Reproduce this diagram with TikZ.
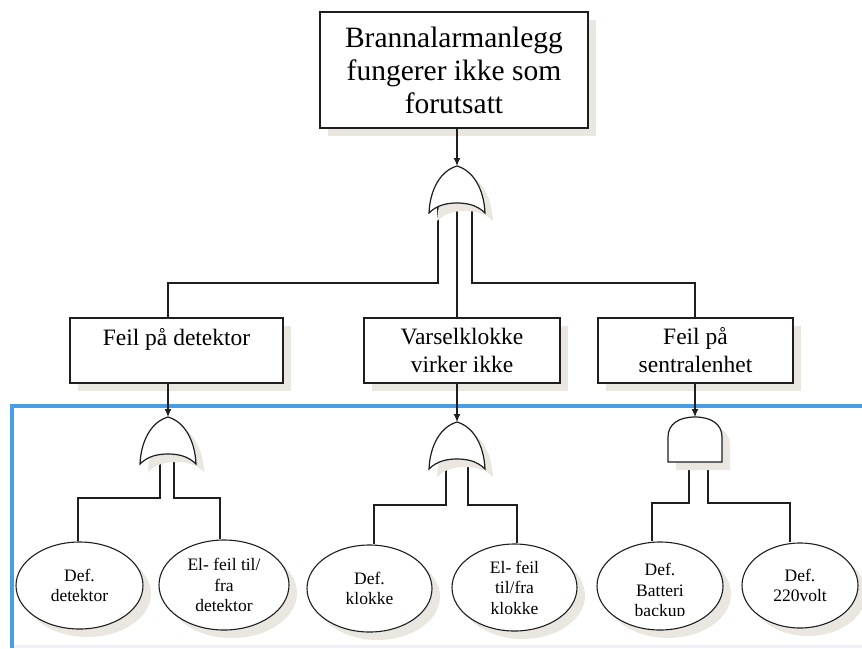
\documentclass[tikz,border=0pt]{standalone}
\usepackage{fontspec}
\setmainfont{Liberation Serif}
\usetikzlibrary{shapes.geometric,arrows.meta}

\definecolor{shade}{RGB}{233,231,224}
\definecolor{frameblue}{RGB}{72,156,232}
\definecolor{bottomtint}{RGB}{236,241,249}
\definecolor{ink}{RGB}{30,30,30}

\tikzset{
  castshadow/.style={preaction={fill=shade, draw=none, transform canvas={shift={(8pt,-8pt)}}}},
  box/.style={rectangle, draw=ink, line width=1.3pt, fill=white, inner sep=0pt,
    align=center, castshadow},
  toptext/.style={font=\fontsize{29.5}{33}\selectfont},
  midtext/.style={font=\fontsize{23.5}{28}\selectfont},
  basic/.style={ellipse, draw=ink, line width=1.1pt, fill=white, inner sep=0pt,
    align=center, castshadow, font=\fontsize{17.5}{20.5}\selectfont},
  basictext/.style={inner sep=0pt, align=center, font=\fontsize{17.5}{20.5}\selectfont},
  wire/.style={draw=ink, line width=1.2pt},
  arr/.style={wire, -{Latex[length=8pt,width=7pt]}},
  gatebody/.style={draw=ink, line width=1.2pt, fill=white, castshadow},
  orgate/.pic={
    \path[gatebody] (0,0) .. controls (17,5) and (27,24) .. (28,47)
      .. controls (20,39) and (10,37) .. (0,37)
      .. controls (-10,37) and (-20,39) .. (-28,47)
      .. controls (-27,24) and (-17,5) .. (0,0) -- cycle;
    \coordinate (-top) at (0,0);
  },
  andgate/.pic={
    \path[gatebody] (0,0) .. controls (16,0) and (27,7) .. (27,20)
      -- (27,45) -- (-27,45) -- (-27,20)
      .. controls (-27,7) and (-16,0) .. (0,0) -- cycle;
    \coordinate (-top) at (0,0);
  },
}

\begin{document}
\begin{tikzpicture}[x=1pt, y=-1pt]
  \useasboundingbox (0,0) rectangle (862,648);

  % frame of the lower part
  \fill[bottomtint] (14,645) rectangle (862,648);
  \draw[frameblue, line width=4pt] (862,406) -- (12,406) -- (12,648);

  % events
  \node[box, toptext, minimum width=268pt, minimum height=116pt] (top) at (454,70)
    {Brannalarmanlegg\\fungerer ikke som\\forutsatt};
  \node[box, midtext, minimum width=213pt, minimum height=65pt] (b1) at (176.5,350.5)
    {Feil på detektor\\\mbox{}};
  \node[box, midtext, minimum width=196pt, minimum height=65pt] (b2) at (462,350.5)
    {Varselklokke\\virker ikke};
  \node[box, midtext, minimum width=195pt, minimum height=65pt] (b3) at (695.5,350.5)
    {Feil på\\sentralenhet};

  % gate inputs
  \coordinate (g0l) at (438,203);
  \coordinate (g0m) at (457,203);
  \coordinate (g0r) at (472,203);
  \coordinate (g1l) at (160,454);
  \coordinate (g1r) at (174,454);
  \coordinate (g2l) at (446,459);
  \coordinate (g2r) at (468,459);
  \coordinate (g3l) at (689,460);
  \coordinate (g3r) at (708,460);

  % bends of the wires
  \coordinate (k1) at (168,283);
  \coordinate (k3) at (695,283);
  \coordinate (d1) at (78,498);
  \coordinate (d2) at (220,498);
  \coordinate (d3) at (374,505);
  \coordinate (d4) at (517,505);
  \coordinate (d5) at (652,503);
  \coordinate (d6) at (790,503);

  % basic events
  \node[basic, minimum width=127pt, minimum height=87pt] (e1) at (79.5,585.5) {Def.\\detektor};
  \node[basic, minimum width=130pt, minimum height=90pt] (e2) at (224,585) {El- feil til/\\fra\\detektor};
  \node[basic, minimum width=125pt, minimum height=87pt] (e3) at (369.5,588.5) {Def.\\klokke};
  \node[basic, minimum width=125pt, minimum height=87pt] (e4) at (514.5,587.5) {El- feil\\til/fra\\klokke};
  \node[basic, minimum width=126pt, minimum height=88pt] (e5) at (660,586) {};
  \node[basic, minimum width=116pt, minimum height=85pt] (e6) at (800,585.5) {Def.\\220volt};
  % the label of e5 runs past its text area and is cut off at the bottom
  \begin{scope}
    \clip (597,540) rectangle (723,615);
    \node[basictext] (t5) at (660,592) {Def.\\Batteri\\backup};
  \end{scope}

  % wires from gates to the events below
  \draw[wire] (g0l) |- (k1) -- (k1 |- b1.north);
  \draw[wire] (g0m) -- (g0m |- b2.north);
  \draw[wire] (g0r) |- (k3) -- (k3 |- b3.north);
  \draw[wire] (g1l) |- (d1) -- (d1 |- e1.north);
  \draw[wire] (g1r) |- (d2) -- (d2 |- e2.north);
  \draw[wire] (g2l) |- (d3) -- (d3 |- e3.north);
  \draw[wire] (g2r) |- (d4) -- (d4 |- e4.north);
  \draw[wire] (g3l) |- (d5) -- (d5 |- e5.north);
  \draw[wire] (g3r) |- (d6) -- (d6 |- e6.north);

  % gates
  \pic (g0) at (457,166) {orgate};
  \pic (g1) at (168,417) {orgate};
  \pic (g2) at (457,422) {orgate};
  \pic (g3) at (695,417) {andgate};

  % events into their gates
  \draw[arr] (top.south -| g0-top) -- (g0-top);
  \draw[arr] (b1.south -| g1-top) -- (g1-top);
  \draw[arr] (b2.south -| g2-top) -- (g2-top);
  \draw[arr] (b3.south -| g3-top) -- (g3-top);
\end{tikzpicture}
\end{document}
